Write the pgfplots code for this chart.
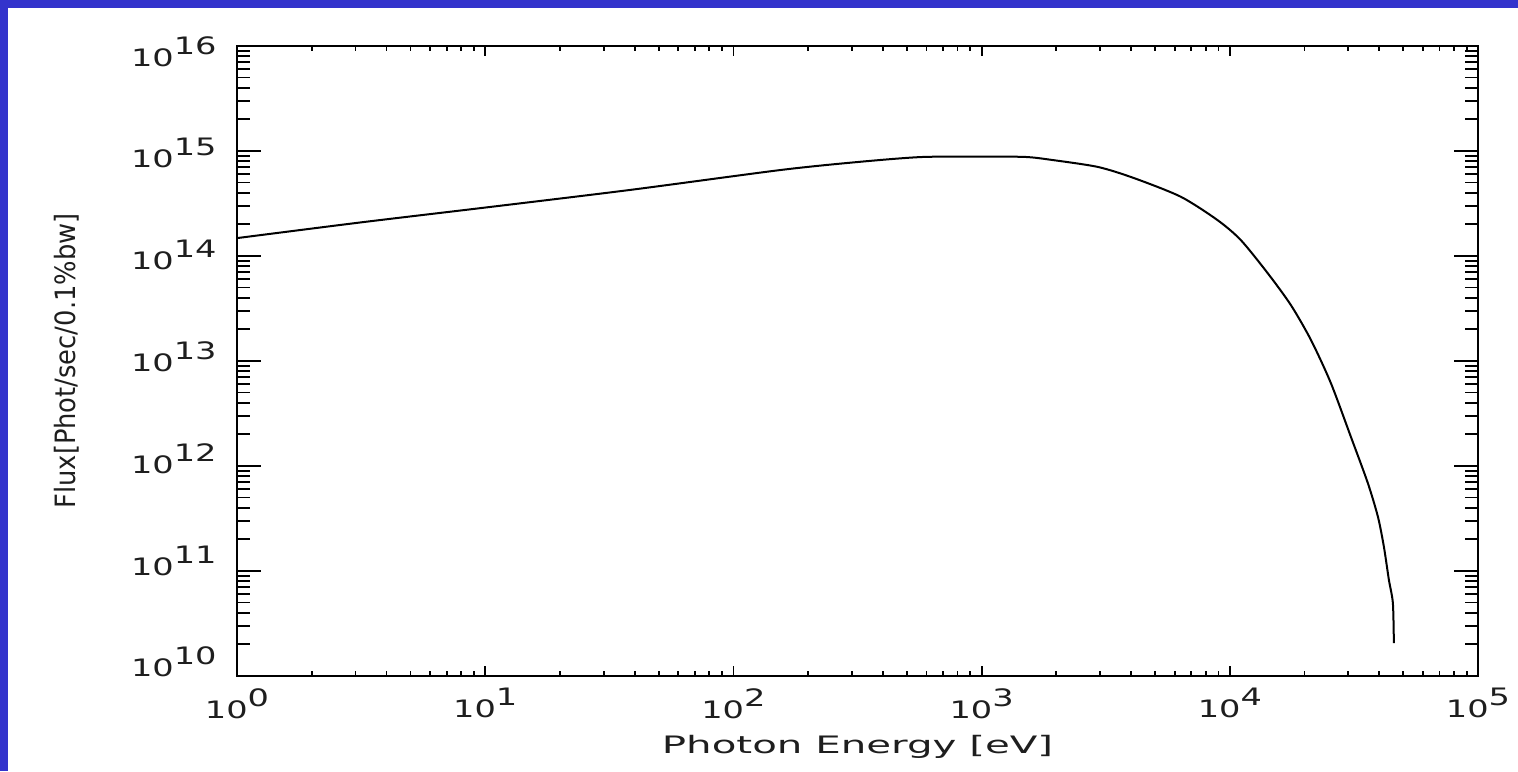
\documentclass[border=0pt]{standalone}
\usepackage{fontspec}
\usepackage{pgfplots}
\pgfplotsset{compat=1.18}
\setmainfont{DejaVu Sans}
\newfontfamily\hfont{DejaVu Sans}[FakeStretch=1.4]
\newfontfamily\xfont{DejaVu Sans}[FakeStretch=1.68]
\newfontfamily\yfont{DejaVu Sans}[FakeStretch=0.92]
\definecolor{bluebg}{RGB}{51,51,204}
\definecolor{ink}{RGB}{30,30,30}
\newcommand\ex[1]{10\raisebox{6pt}{#1}}
\newcommand\yl[2]{\raisebox{#1}{\ex{#2}}}
\begin{document}
\begin{tikzpicture}
\fill[bluebg] (0,0) rectangle (759pt,385.5pt);
\fill[white] (3.75pt,0) rectangle (759pt,381.25pt);
% axis with the y ticks, the y label and the curve
\begin{axis}[
  at={(118.5pt,47.5pt)}, anchor=south west,
  scale only axis, width=620.5pt, height=315pt,
  xmode=log, ymode=log, xmin=1, xmax=1e5, ymin=1e10, ymax=1e16,
  axis line style={line width=0.9pt},
  tick style={black, line width=0.9pt},
  tick align=inside,
  major tick length=12pt, minor tick length=6.5pt,
  xtick=\empty,
  ytick={1e10,1e11,1e12,1e13,1e14,1e15,1e16},
  yticklabels={\yl{5pt}{10},\yl{3.4pt}{11},\yl{1.8pt}{12},\yl{0.2pt}{13},\yl{-1.4pt}{14},\yl{-3pt}{15},\yl{-4.6pt}{16}},
  yticklabel style={font=\hfont\fontsize{12}{14}\selectfont, text=ink, inner sep=0pt, anchor=base east, xshift=-10pt, yshift=-5.5pt},
  ylabel={Flux[Phot/sec/0.1\%bw]},
  ylabel style={font=\yfont\fontsize{14}{16}\selectfont, text=ink, at={(axis description cs:-0.137,0.5)}, anchor=center, inner sep=0pt},
]
\addplot[black, line width=1pt, smooth, tension=0.45] coordinates {
(1, 1.48e14)
(3.162, 2.09e14)
(10.47, 2.93e14)
(38.46, 4.26e14)
(154.9, 6.59e14)
(316.2, 7.85e14)
(567.5, 8.75e14)
(1000, 8.85e14)
(1503, 8.77e14)
(1897, 8.25e14)
(2938, 7.05e14)
(4102, 5.53e14)
(6339, 3.67e14)
(8913, 2.20e14)
(11066, 1.42e14)
(14191, 6.89e13)
(17620, 3.41e13)
(21232, 1.585e13)
(25527, 6.17e12)
(30761, 1.89e12)
(35975, 6.89e11)
(39537, 3.27e11)
(41783, 1.69e11)
(43752, 8.20e10)
(45394, 4.95e10)
(45814, 2.06e10)
};
\end{axis}
% axis with the x ticks and the x label
\begin{axis}[
  at={(118.5pt,47.5pt)}, anchor=south west,
  scale only axis, width=620.5pt, height=315pt,
  xmode=log, ymode=log, xmin=1, xmax=1e5, ymin=1e10, ymax=1e16,
  axis line style={line width=0.9pt},
  tick style={black, line width=0.9pt},
  tick align=inside,
  major tick length=5pt, minor tick length=2.5pt,
  ytick=\empty,
  xtick={1,10,100,1000,10000,100000},
  xticklabels={\ex{0},\ex{1},\ex{2},\ex{3},\ex{4},\ex{5}},
  xticklabel style={font=\hfont\fontsize{12}{14}\selectfont, text=ink, inner sep=0pt, anchor=north, yshift=-6pt},
  xlabel={Photon Energy [eV]},
  xlabel style={font=\xfont\fontsize{12}{14}\selectfont, text=ink, at={(axis description cs:0.5,-0.094)}, anchor=north, inner sep=0pt},
]
\addplot[draw=none] coordinates {(10,1e13)};
\end{axis}
\pgfresetboundingbox
\path (0,0) rectangle (759pt,385.5pt);
\end{tikzpicture}
\end{document}
